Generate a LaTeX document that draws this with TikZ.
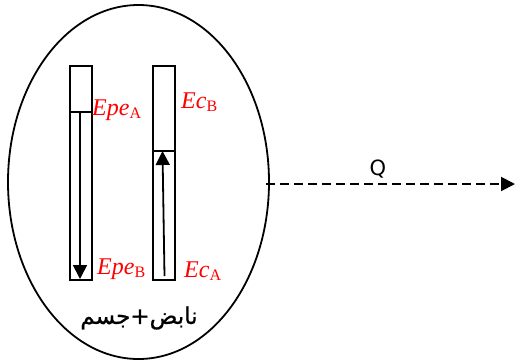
\documentclass[tikz,border=0pt]{standalone}
\usepackage{fontspec}
\setmainfont{Liberation Serif}
\newfontfamily\arabicfont[Script=Arabic,FakeBold=0.8]{DejaVu Sans}
\newfontfamily\qfont{DejaVu Sans}
\TeXXeTstate=1
\usetikzlibrary{arrows.meta,shapes.geometric}
\newcommand{\lowsub}[1]{\raisebox{-3pt}{\fontsize{16}{18}\selectfont\upshape #1}}
\begin{document}
\begin{tikzpicture}[x=1pt,y=-1pt,
  bar/.style={draw,line width=2pt},
  lbl/.style={text=red,font=\fontsize{24}{28}\selectfont\itshape,inner sep=0pt,anchor=base west},
  tip/.style={-{Triangle[length=14pt,width=14pt]}},
  ]
\useasboundingbox (0,0) rectangle (515,360);
\node[draw,line width=1.8pt,ellipse,minimum width=261pt,minimum height=354pt,inner sep=0pt] (ell) at (138.5,182) {};
\node[bar,minimum width=22pt,minimum height=214pt,inner sep=0pt,anchor=north west] (r1) at (69,65) {};
\node[bar,minimum width=22pt,minimum height=214pt,inner sep=0pt,anchor=north west] (r2) at (152,65) {};
\coordinate (d1l) at (69,112);
\coordinate (d1r) at (91,112);
\draw[line width=2pt] (d1l) -- (d1r);
\coordinate (d2l) at (152,151);
\coordinate (d2r) at (174,151);
\draw[line width=2pt] (d2l) -- (d2r);
\coordinate (a1s) at (80,113);
\coordinate (a1e) at (80,279);
\draw[tip,line width=1.8pt] (a1s) -- (a1e);
\coordinate (a2s) at (164.5,276);
\coordinate (a2e) at (162.5,151);
\draw[tip,line width=1.8pt] (a2s) -- (a2e);
\node[lbl] (epea) at (92,115) {Epe\lowsub{A}};
\node[lbl] (ecb) at (181,108) {Ec\lowsub{B}};
\node[lbl] (epeb) at (97,274) {Epe\lowsub{B}};
\node[lbl] (eca) at (184,277) {Ec\lowsub{A}};
\coordinate (qs) at (266,184);
\coordinate (qe) at (515,184);
\draw[tip,line width=2pt,dash pattern=on 9pt off 5pt] (qs) -- (qe);
\node[font=\qfont\fontsize{21}{24}\selectfont,inner sep=0pt] (q) at (378,169) {Q};
\node[font=\arabicfont\fontsize{23}{26}\selectfont,inner sep=0pt] (ar) at (139,318) {\beginR نابض+جسم\endR};
\end{tikzpicture}
\end{document}
